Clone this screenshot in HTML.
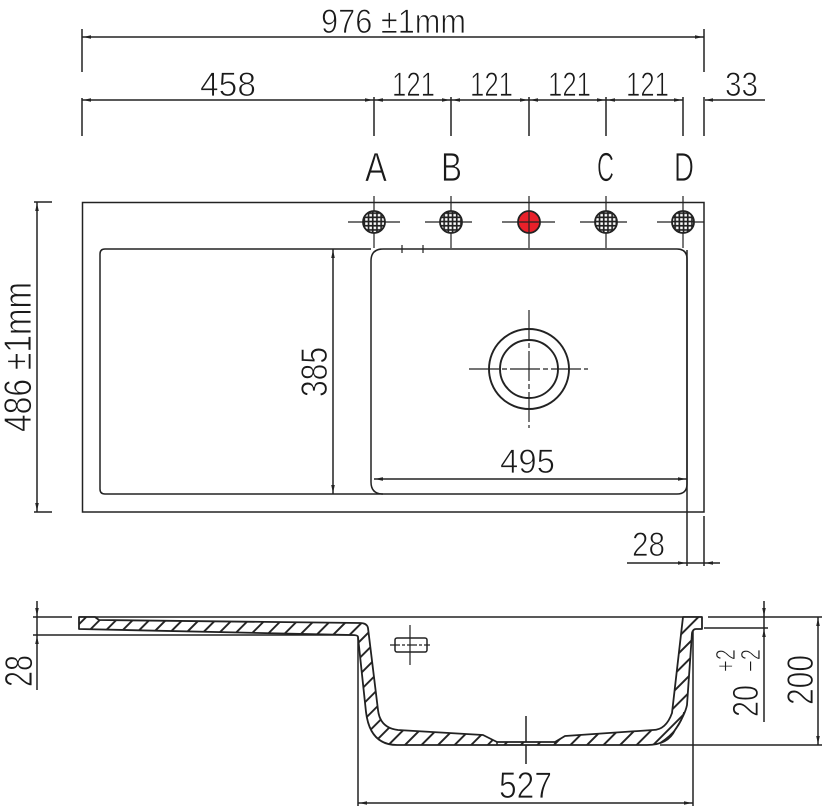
<!DOCTYPE html>
<html><head><meta charset="utf-8"><style>
html,body{margin:0;padding:0;background:#fff}
svg{display:block}
text{font-family:"Liberation Sans",sans-serif;font-size:34px;fill:#1a1a1a;stroke:#fff;stroke-width:.85px}
.l{stroke:#222;stroke-width:1.5;fill:none}
.t{stroke:#222;stroke-width:1.2;fill:none}
</style></head><body>
<svg width="830" height="811" viewBox="0 0 830 811" xmlns="http://www.w3.org/2000/svg">
<defs>
<pattern id="h" width="11.7" height="11.7" patternUnits="userSpaceOnUse" patternTransform="rotate(45)">
<rect width="11.7" height="11.7" fill="#fff"/><rect x="4.9" y="0" width="1.9" height="11.7" fill="#222"/>
</pattern>
<pattern id="g" width="4.2" height="4.2" patternUnits="userSpaceOnUse" x="1" y="1">
<rect width="4.2" height="4.2" fill="#fff"/><rect x="1.3" width="1.7" height="4.2" fill="#222"/><rect y="1.3" width="4.2" height="1.7" fill="#222"/>
</pattern>
</defs>

<text x="321" y="33" textLength="145" lengthAdjust="spacingAndGlyphs">976 ±1mm</text>
<text x="200" y="96" textLength="56" lengthAdjust="spacingAndGlyphs">458</text>
<text x="392" y="96" textLength="43" lengthAdjust="spacingAndGlyphs">121</text>
<text x="470" y="96" textLength="43" lengthAdjust="spacingAndGlyphs">121</text>
<text x="548" y="96" textLength="43" lengthAdjust="spacingAndGlyphs">121</text>
<text x="626" y="96" textLength="43" lengthAdjust="spacingAndGlyphs">121</text>
<text x="725" y="96" textLength="33" lengthAdjust="spacingAndGlyphs">33</text>
<text x="365" y="181" textLength="22" lengthAdjust="spacingAndGlyphs" style="font-size:41px">A</text>
<text x="441" y="181" textLength="21" lengthAdjust="spacingAndGlyphs" style="font-size:41px">B</text>
<text x="597" y="181" textLength="17" lengthAdjust="spacingAndGlyphs" style="font-size:41px">C</text>
<text x="674" y="181" textLength="20" lengthAdjust="spacingAndGlyphs" style="font-size:41px">D</text>
<text x="500" y="473" textLength="55" lengthAdjust="spacingAndGlyphs">495</text>
<text x="632" y="556" textLength="33" lengthAdjust="spacingAndGlyphs">28</text>
<text transform="translate(327,397) rotate(-90)" textLength="50" lengthAdjust="spacingAndGlyphs" style="font-size:37px">385</text>
<text transform="translate(31,432) rotate(-90)" textLength="150" lengthAdjust="spacingAndGlyphs" style="font-size:39px">486 ±1mm</text>
<text transform="translate(32,687) rotate(-90)" textLength="32" lengthAdjust="spacingAndGlyphs" style="font-size:39px">28</text>
<text transform="translate(758,717) rotate(-90)" textLength="32" lengthAdjust="spacingAndGlyphs" style="font-size:36px">20</text>
<text transform="translate(735,672) rotate(-90)" textLength="23" lengthAdjust="spacingAndGlyphs" style="font-size:28px">+2</text>
<text transform="translate(760,672) rotate(-90)" textLength="23" lengthAdjust="spacingAndGlyphs" style="font-size:28px">−2</text>
<text transform="translate(813,705) rotate(-90)" textLength="50" lengthAdjust="spacingAndGlyphs" style="font-size:37px">200</text>
<text x="499" y="798" textLength="53" lengthAdjust="spacingAndGlyphs" style="font-size:37px">527</text>

<!-- top dims -->
<path class="l" d="M82 37H704M82 29V72M704 29V72M82 100H683M705 100H765M82 98V136M374 97V136M451 97V136M529 97V136M606 97V136M683 97V136M704 97V136"/>

<!-- plan -->
<rect class="l" x="82.5" y="202.5" width="621.5" height="309.5"/>
<path class="l" d="M34 202H52M34 512H52M37 202V512"/>
<path class="l" d="M371 261Q371 249 383 249H677Q687 249 687 259V484Q687 494 677 494H383Q371 494 371 482Z"/>
<path class="l" d="M371 249H105Q100 249 100 254V489Q100 494 105 494H383"/>
<path class="l" d="M333 249V494M374 479H687M687 250V566M704 516V566M627 563H720"/>
<path class="t" d="M402 245V253M423 245V253"/>

<path class="t" d="M348 222H400M374 196V248M425 222H472M451 196V248M502 222H555M529 196V248M580 222H627M606 196V248M657 222H704M683 196V248"/>
<g stroke="#222" stroke-width="1.8">
<circle cx="374" cy="222" r="11" fill="url(#g)"/>
<circle cx="451" cy="222" r="11" fill="url(#g)"/>
<circle cx="529" cy="222" r="11" fill="#e8202a"/>
<circle cx="606" cy="222" r="11" fill="url(#g)"/>
<circle cx="683" cy="222" r="11" fill="url(#g)"/>
</g>
<path class="t" d="M518 222H540M529 211V233"/>

<circle class="l" cx="529" cy="369" r="40" style="stroke-width:1.9"/>
<circle class="l" cx="529" cy="369" r="29" style="stroke-width:1.9"/>
<path class="t" d="M469 369H588M529 310V428" stroke-dasharray="30 3 5 3"/>

<!-- section -->
<path class="l" d="M79 617H702M33 617H72M37 601V690M33 635H358M358 636V806M693 628V806M358 803H693M708 617H822M704 628H768M764 601V722M660 745H822M818 617V745M526 716V764"/>
<path fill="url(#h)" stroke="#222" stroke-width="1.8" stroke-linejoin="round" d="M79 617V629L352 635Q358 635 358 637L366 712Q370 745 397 745H647Q668 745 675 730Q685 715 687 705L692 633Q693 629 696 629H702V617H683L672 713Q666 730 653 730L565 736L555 742H497L483 735L398 730Q380 728 378 710L368 628Q367 623 360 623L99 620L95 617Z"/>
<path class="l" d="M497 742V745M555 742V745M660 743Q680 730 684 712"/>
<rect class="l" x="395" y="638" width="32" height="14" rx="2"/>
<path class="t" d="M390 645H430" stroke-dasharray="10 2 3 2"/>
<path class="t" d="M410 625V665"/>

<!-- arrowheads -->
<path fill="#222" d="M83 37l8-1.8v3.6zM703 37l-8-1.8v3.6z
M83 100l8-1.8v3.6zM373 100l-8-1.8v3.6zM375 100l8-1.8v3.6zM450 100l-8-1.8v3.6zM452 100l8-1.8v3.6zM528 100l-8-1.8v3.6zM530 100l8-1.8v3.6zM605 100l-8-1.8v3.6zM607 100l8-1.8v3.6zM682 100l-8-1.8v3.6zM705 100l8-1.8v3.6z
M37 203l-1.8 8h3.6zM37 511l-1.8-8h3.6zM333 250l-1.8 8h3.6zM333 493l-1.8-8h3.6z
M375 479l8-1.8v3.6zM686 479l-8-1.8v3.6zM686 563l-8-1.8v3.6zM705 563l8-1.8v3.6z
M37 616l-1.8-8h3.6zM37 636l-1.8 8h3.6zM764 616l-1.8-8h3.6zM764 629l-1.8 8h3.6z
M818 618l-1.8 8h3.6zM818 744l-1.8-8h3.6zM359 803l8-1.8v3.6zM692 803l-8-1.8v3.6z"/>
</svg>
</body></html>
